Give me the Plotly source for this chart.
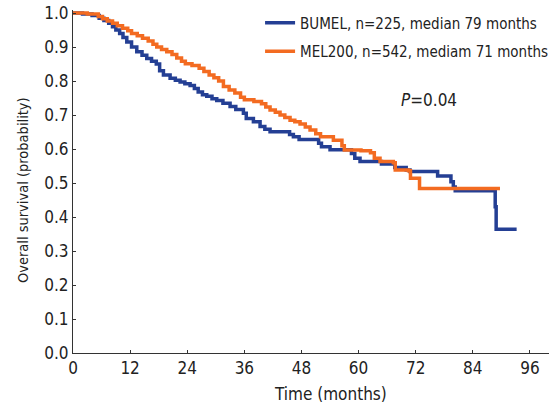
import plotly.graph_objects as go

# BUMEL (blue) Kaplan-Meier steps
bumel_t = [0, 2, 4, 5.5, 6.5, 7.5, 8.3, 9, 9.8, 10.5,
           11.3, 12.3, 13.4, 14.5, 15.5, 16.5, 17.5, 18.2, 19, 20.4,
           21.5, 22.5, 23.5, 24.6, 25.5, 26.3, 27.2, 28.1, 29.2, 30.2,
           31.5, 33, 34.2, 35.8, 36.4, 37.9, 39.3, 40.3, 41.4, 45.5,
           46.3, 47.5, 51.6, 52.2, 54, 58.5, 59.2, 60.3, 64.8, 67.6,
           70, 70.8, 76.6, 79.4, 79.9, 80.3, 88.7, 88.9, 93.2]
bumel_s = [1.0, 0.997, 0.993, 0.985, 0.978, 0.97, 0.96, 0.95, 0.94, 0.928,
           0.915, 0.9, 0.886, 0.876, 0.866, 0.858, 0.85, 0.83, 0.818, 0.808,
           0.802, 0.797, 0.792, 0.787, 0.778, 0.768, 0.76, 0.755, 0.748, 0.743,
           0.735, 0.725, 0.716, 0.705, 0.69, 0.68, 0.666, 0.658, 0.651, 0.643,
           0.636, 0.628, 0.617, 0.607, 0.598, 0.587, 0.573, 0.563, 0.556, 0.546,
           0.538, 0.534, 0.521, 0.504, 0.488, 0.477, 0.43, 0.364, 0.364]

# MEL200 (orange) Kaplan-Meier steps
mel_t = [0, 3, 5.3, 6.2, 7.2, 8.3, 9.3, 10.4, 11.5, 12.3,
         13.5, 14.6, 15.8, 16.8, 17.6, 18.6, 19.7, 20.8, 21.8, 22.8,
         23.6, 25, 26.5, 27.5, 28.6, 29.6, 30.6, 31.6, 32.8, 34,
         35.2, 36, 38, 39.6, 40.5, 41.4, 42.5, 43.5, 44.5, 45.6,
         46.6, 47.7, 48.8, 49.8, 51, 52, 54.7, 56.5, 57, 60.5,
         62.5, 63.3, 64.5, 67.3, 67.7, 70.5, 70.9, 72.8, 89.7]
mel_s = [1.0, 0.997, 0.99, 0.983, 0.977, 0.97, 0.963, 0.955, 0.948, 0.94,
         0.933, 0.926, 0.918, 0.908, 0.9, 0.893, 0.886, 0.878, 0.868, 0.858,
         0.851, 0.846, 0.838, 0.828, 0.818, 0.81, 0.8, 0.784, 0.774, 0.765,
         0.752, 0.745, 0.74, 0.733, 0.724, 0.715, 0.708, 0.7, 0.693, 0.685,
         0.68, 0.674, 0.665, 0.656, 0.645, 0.636, 0.626, 0.61, 0.597, 0.595,
         0.589, 0.573, 0.563, 0.56, 0.538, 0.536, 0.514, 0.484, 0.484]

x_ticks = [0, 12, 24, 36, 48, 60, 72, 84, 96]
y_ticks = [0.0, 0.1, 0.2, 0.3, 0.4, 0.5, 0.6, 0.7, 0.8, 0.9, 1.0]
y_tick_labels = ["0.0", "0.1", "0.2", "0.3", "0.4", "0.5", "0.6", "0.7", "0.8", "0.9", "1.0"]

FONT = "DejaVu Sans Condensed, Liberation Sans Narrow, sans-serif"
BLUE = "#243f94"
ORANGE = "#f36b21"

fig = go.Figure()
fig.add_trace(go.Scatter(x=bumel_t, y=bumel_s, mode="lines", line_shape="hv",
                         line=dict(color=BLUE, width=3.5), legendgroup="a",
                         name="BUMEL, n=225, median 79 months"))
fig.add_trace(go.Scatter(x=mel_t, y=mel_s, mode="lines", line_shape="hv",
                         line=dict(color=ORANGE, width=3.5), legendgroup="b",
                         name="MEL200, n=542, mediam 71 months"))

fig.update_layout(
    width=555, height=404,
    margin=dict(l=73, r=6, t=10, b=51, autoexpand=False),
    plot_bgcolor="white", paper_bgcolor="white",
    font=dict(family=FONT, size=17, color="#222222"),
    showlegend=True,
    legend=dict(x=0.393, y=1.01, xanchor="left", yanchor="top",
                bgcolor="rgba(0,0,0,0)", font=dict(size=15), itemwidth=30,
                tracegroupgap=6),
    xaxis=dict(range=[0, 100], tickvals=x_ticks, showgrid=False, zeroline=False,
               showline=True, linecolor="#333333", linewidth=1,
               ticks="inside", ticklen=3, tickcolor="#333333",
               tickfont=dict(size=17), automargin=False),
    yaxis=dict(range=[0, 1.009], tickvals=y_ticks, ticktext=y_tick_labels,
               showgrid=False, zeroline=False,
               showline=True, linecolor="#333333", linewidth=1,
               ticks="inside", ticklen=3, tickcolor="#333333",
               tickfont=dict(size=17), automargin=False),
    annotations=[
        dict(text="Time (months)", xref="paper", yref="paper", x=0.542, y=0,
             yshift=-41, showarrow=False, font=dict(size=17),
             xanchor="center", yanchor="middle"),
        dict(text="Overall survival (probability)", xref="paper", yref="paper",
             x=0, xshift=-50, y=0.475, textangle=-90, showarrow=False,
             font=dict(size=14.5), xanchor="center", yanchor="middle"),
        dict(text="<i>P</i>=0.04", xref="paper", yref="paper",
             x=(429 - 73) / 476, y=(353 - 100) / 343, showarrow=False,
             font=dict(size=17), xanchor="center", yanchor="middle"),
    ],
)

fig.write_html("out.html", config={"displayModeBar": False},
               post_script="document.body.style.margin='0';document.body.style.overflow='hidden';")
